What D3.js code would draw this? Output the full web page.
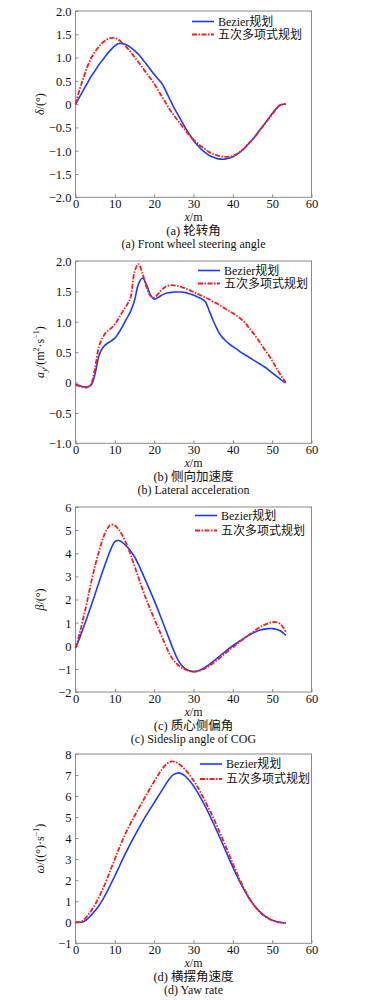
<!DOCTYPE html>
<html>
<head>
<meta charset="utf-8">
<script src="https://cdn.jsdelivr.net/npm/d3@7"></script>
<style>
  body { margin: 0; background: #fff; }
  svg { display: block; }
  text { font-family: "Liberation Serif", "Times New Roman", Tinos, "DejaVu Serif", "Noto Sans CJK SC", serif; fill: #111; }
</style>
</head>
<body>
<svg width="369" height="1000"></svg>
<script>
// distance along path, m
var xs = [0,1,2,3,4,5,6,7,8,9,10,11,12,13,14,15,16,17,18,19,20,21,22,23,24,25,26,27,28,29,30,
          31,32,33,34,35,36,37,38,39,40,41,42,43,44,45,46,47,48,49,50,51,52,53,53.5];

var seriesNames = ["Bezier规划", "五次多项式规划"];
var xTicks = [0, 10, 20, 30, 40, 50, 60];

// (a) front wheel steering angle
var steerBezier = [0,0.15,0.3,0.45,0.6,0.72,0.85,0.96,1.07,1.17,1.25,1.3,1.3,1.27,1.22,1.15,1.07,0.97,0.86,0.75,0.64,0.54,0.44,0.28,0.1,-0.07,
  -0.22,-0.37,-0.52,-0.65,-0.78,-0.88,-0.97,-1.04,-1.1,-1.14,-1.17,-1.18,-1.18,-1.16,-1.13,-1.08,-1.02,-0.94,-0.85,-0.76,
  -0.65,-0.54,-0.43,-0.32,-0.2,-0.1,-0.02,0,0];
var steerPoly = [0,0.3,0.56,0.8,0.99,1.13,1.24,1.33,1.39,1.42,1.42,1.38,1.31,1.22,1.12,1.01,0.9,0.79,0.67,0.56,0.44,0.3,0.16,0.02,-0.12,-0.24,
  -0.35,-0.46,-0.57,-0.67,-0.76,-0.84,-0.91,-0.97,-1.03,-1.07,-1.1,-1.12,-1.13,-1.13,-1.11,-1.07,-1.01,-0.94,-0.85,-0.76,
  -0.66,-0.55,-0.44,-0.33,-0.22,-0.11,-0.02,0,0];
var steerTicks = [-2, -1.5, -1, -0.5, 0, 0.5, 1, 1.5, 2];

// (b) lateral acceleration
var accBezier = [-0.03,-0.05,-0.07,-0.07,-0.04,0.15,0.45,0.58,0.64,0.68,0.73,0.82,0.93,1.05,1.17,1.35,1.62,1.72,1.62,1.45,1.37,1.4,1.44,1.47,1.48,1.49,
  1.49,1.49,1.48,1.46,1.44,1.41,1.38,1.33,1.18,1.02,0.88,0.77,0.7,0.64,0.59,0.55,0.5,0.46,0.42,0.38,0.34,0.3,0.26,0.21,0.16,0.11,0.06,0.01,0];
var accPoly = [-0.04,-0.06,-0.08,-0.08,-0.02,0.25,0.6,0.75,0.84,0.89,0.96,1.06,1.17,1.27,1.4,1.82,1.95,1.8,1.58,1.43,1.4,1.46,1.53,1.58,1.6,1.6,
  1.59,1.57,1.55,1.52,1.49,1.46,1.43,1.4,1.37,1.33,1.3,1.26,1.22,1.18,1.14,1.1,1.05,0.99,0.91,0.83,0.74,0.65,0.55,0.46,0.36,0.25,0.14,0.04,0];
var accTicks = [-1, -0.5, 0, 0.5, 1, 1.5, 2];

// (c) sideslip angle of COG
var slipBezier = [-0.1,0.32,0.78,1.25,1.74,2.25,2.76,3.26,3.74,4.18,4.5,4.55,4.46,4.3,4.1,3.85,3.52,3.14,2.75,2.36,1.96,1.54,1.1,0.66,0.22,-0.22,
  -0.6,-0.85,-1.0,-1.08,-1.12,-1.1,-1.03,-0.93,-0.81,-0.68,-0.54,-0.4,-0.26,-0.13,0,0.12,0.23,0.34,0.45,0.54,0.62,0.68,0.72,0.74,0.74,0.71,0.65,0.52,0.45];
var slipPoly = [-0.1,0.5,1.2,1.95,2.75,3.48,4.1,4.65,5.05,5.24,5.2,5.02,4.75,4.38,3.94,3.45,2.95,2.46,2.0,1.58,1.18,0.78,0.38,-0.02,-0.38,-0.64,
  -0.82,-0.95,-1.04,-1.1,-1.12,-1.1,-1.05,-0.97,-0.87,-0.75,-0.62,-0.48,-0.34,-0.2,-0.07,0.07,0.2,0.33,0.46,0.58,0.7,0.81,0.9,0.97,1.02,1.02,0.95,0.74,0.58];
var slipTicks = [-2, -1, 0, 1, 2, 3, 4, 5, 6];

// (d) yaw rate
var yawBezier = [0,0,0.03,0.15,0.34,0.56,0.8,1.1,1.44,1.82,2.2,2.6,3.0,3.38,3.75,4.1,4.44,4.77,5.09,5.39,5.68,5.98,6.28,6.58,6.85,7.03,
  7.1,7.06,6.93,6.73,6.48,6.19,5.86,5.51,5.13,4.73,4.32,3.9,3.47,3.04,2.62,2.22,1.85,1.5,1.18,0.91,0.68,0.48,0.32,0.2,0.1,0.04,0,-0.03,-0.03];
var yawPoly = [0,0,0.1,0.3,0.55,0.85,1.2,1.6,2.05,2.53,3.0,3.48,3.92,4.33,4.7,5.05,5.39,5.72,6.05,6.37,6.69,7.0,7.28,7.5,7.63,7.64,
  7.56,7.42,7.23,7.0,6.74,6.44,6.1,5.74,5.37,4.98,4.56,4.13,3.69,3.24,2.79,2.35,1.94,1.56,1.2,0.9,0.66,0.46,0.3,0.18,0.09,0.03,-0.01,-0.03,-0.03];
var yawTicks = [-1, 0, 1, 2, 3, 4, 5, 6, 7, 8];

var svg = d3.select("svg");
var left = 75.5, right = 311.5;

var fmt1 = function(d) {
    if (d === 0) return "0";
    return (d < 0 ? "\u2212" : "") + Math.abs(d).toFixed(1);
};
var fmt0 = function(d) { return (d < 0 ? "\u2212" : "") + Math.abs(d); };

var panels = [
    {top: 11, bottom: 197.3, b: steerBezier, p: steerPoly, ticks: steerTicks, fmt: fmt1,
     ylabel: [["δ", "italic"], ["/(°)", "normal"]],
     leg: {x: 192, y: 21.5, dy: 13}, cn: "(a) 轮转角", en: "(a) Front wheel steering angle"},
    {top: 261, bottom: 443.3, b: accBezier, p: accPoly, ticks: accTicks, fmt: fmt1,
     ylabel: "acc",
     leg: {x: 198, y: 270.5, dy: 13}, cn: "(b) 侧向加速度", en: "(b) Lateral acceleration"},
    {top: 507, bottom: 692, b: slipBezier, p: slipPoly, ticks: slipTicks, fmt: fmt0,
     ylabel: [["β", "italic"], ["/(°)", "normal"]],
     leg: {x: 195, y: 515.5, dy: 15}, cn: "(c) 质心侧偏角", en: "(c) Sideslip angle of COG"},
    {top: 754, bottom: 943.3, b: yawBezier, p: yawPoly, ticks: yawTicks, fmt: fmt0,
     ylabel: "yaw",
     leg: {x: 200, y: 764, dy: 15}, cn: "(d) 横摆角速度", en: "(d) Yaw rate"}
];

panels.forEach(function(pn) {
    var x = d3.scaleLinear().domain([0, 60]).range([left, right]);
    var y = d3.scaleLinear().domain(d3.extent(pn.ticks)).range([pn.bottom, pn.top]);
    var g = svg.append("g");

    // frame
    g.append("rect")
        .attr("x", left).attr("y", pn.top)
        .attr("width", right - left).attr("height", pn.bottom - pn.top)
        .attr("fill", "none").attr("stroke", "#8a8a8a").attr("stroke-width", 1);

    var xAxis = g.append("g")
        .attr("transform", "translate(0," + pn.bottom + ")")
        .call(d3.axisBottom(x).tickValues(xTicks).tickSizeInner(-3).tickSizeOuter(0).tickPadding(2));
    var yAxis = g.append("g")
        .attr("transform", "translate(" + left + ",0)")
        .call(d3.axisLeft(y).tickValues(pn.ticks).tickFormat(pn.fmt).tickSizeInner(-3).tickSizeOuter(0).tickPadding(4));
    [xAxis, yAxis].forEach(function(a) {
        a.attr("font-family", null);
        a.select(".domain").remove();
        a.selectAll("line").attr("stroke", "#8a8a8a");
        a.selectAll("text").attr("font-size", 12.5).attr("fill", "#111");
    });
    xAxis.selectAll("text").attr("dy", "0.72em");
    yAxis.selectAll("text").attr("dy", "0.35em");

    var line = d3.line()
        .x(function(d, i) { return x(xs[i]); })
        .y(function(d) { return y(d); })
        .curve(d3.curveCatmullRom.alpha(0.5));

    g.append("path").attr("d", line(pn.b))
        .attr("fill", "none").attr("stroke", "#1a3cff").attr("stroke-width", 1.6);
    g.append("path").attr("d", line(pn.p))
        .attr("fill", "none").attr("stroke", "#ff1a1a").attr("stroke-width", 1.8)
        .attr("stroke-dasharray", "5,1.5,1.5,1.5");

    // legend
    var lg = g.append("g");
    [0, 1].forEach(function(k) {
        var yy = pn.leg.y + k * pn.leg.dy;
        lg.append("line")
            .attr("x1", pn.leg.x).attr("x2", pn.leg.x + 22)
            .attr("y1", yy).attr("y2", yy)
            .attr("stroke", k === 0 ? "#1a3cff" : "#ff1a1a")
            .attr("stroke-width", k === 0 ? 1.6 : 1.8)
            .attr("stroke-dasharray", k === 0 ? null : "5,1.5,1.5,1.5");
        lg.append("text")
            .attr("x", pn.leg.x + 26).attr("y", yy).attr("dy", "0.35em")
            .attr("font-size", 12).text(seriesNames[k]);
    });

    // y label
    var cy = (pn.top + pn.bottom) / 2;
    var yl = g.append("text")
        .attr("transform", "translate(44," + cy + ") rotate(-90)")
        .attr("text-anchor", "middle").attr("font-size", 12);
    if (pn.ylabel === "acc") {
        yl.append("tspan").attr("font-style", "italic").text("a");
        yl.append("tspan").attr("font-style", "italic").attr("font-size", 9).attr("dy", 3).text("y");
        yl.append("tspan").attr("dy", -3).text("/(m");
        yl.append("tspan").attr("font-size", 8).attr("dy", -5).text("2");
        yl.append("tspan").attr("dy", 5).text("·s");
        yl.append("tspan").attr("font-size", 8).attr("dy", -5).text("−1");
        yl.append("tspan").attr("dy", 5).text(")");
    } else if (pn.ylabel === "yaw") {
        yl.append("tspan").attr("font-style", "italic").text("ω");
        yl.append("tspan").text("/((°)·s");
        yl.append("tspan").attr("font-size", 8).attr("dy", -5).text("−1");
        yl.append("tspan").attr("dy", 5).text(")");
    } else {
        pn.ylabel.forEach(function(s) {
            yl.append("tspan").attr("font-style", s[1]).text(s[0]);
        });
    }

    // x label and captions
    var cx = (left + right) / 2;
    var xl = g.append("text").attr("x", cx).attr("y", pn.bottom + 24)
        .attr("text-anchor", "middle").attr("font-size", 12);
    xl.append("tspan").attr("font-style", "italic").text("x");
    xl.append("tspan").text("/m");
    g.append("text").attr("x", cx).attr("y", pn.bottom + 38)
        .attr("text-anchor", "middle").attr("font-size", 12.5).text(pn.cn);
    g.append("text").attr("x", cx).attr("y", pn.bottom + 51)
        .attr("text-anchor", "middle").attr("font-size", 12).text(pn.en);
});
</script>
</body>
</html>
